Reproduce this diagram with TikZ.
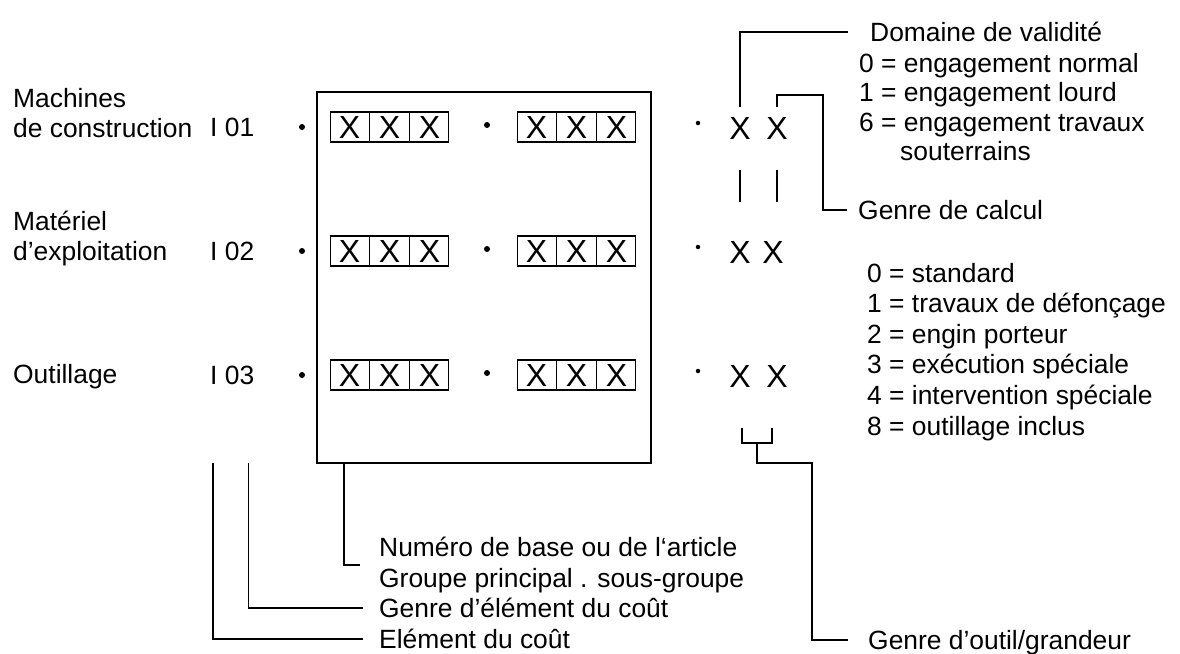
\documentclass[tikz,border=0pt]{standalone}
\usepackage{fontspec}
\setmainfont{Liberation Sans}
\usetikzlibrary{shapes.multipart}

\tikzset{
  txt/.style={anchor=west, inner sep=0pt, text height=18.9pt, text depth=0pt},
  blk/.style={anchor=north west, inner sep=0pt, align=left},
  xx/.style={inner sep=0pt, font=\fontsize{32}{36}\selectfont, text height=22.9pt, text depth=0pt},
  xbox/.style={draw, line width=1.6pt, font=\fontsize{32}{36}\selectfont, rectangle split,
    rectangle split horizontal, rectangle split parts=3, inner xsep=8.5pt, inner ysep=4pt},
  bull/.style={circle, fill, inner sep=0pt, minimum size=6pt},
  wire/.style={line width=1.6pt}
}

\begin{document}
\begin{tikzpicture}[x=1pt, y=-1pt, font=\fontsize{26.4}{30}\selectfont]
  \useasboundingbox (0,0) rectangle (1180,653);
  \node[draw, wire, inner sep=0pt, outer sep=0pt, minimum width=334pt,
    minimum height=371pt] (frame) at (484,277.5) {};
  \node[blk] (mach) at (13,88) {Machines\\de construction};
  \node[blk] (mat) at (13,211) {Matériel\\d’exploitation};
  \node[txt] (outi) at (13,374) {Outillage};
  \foreach \r/\y/\xb in {1/127/777, 2/251/773, 3/375/777} {
    \node[txt] (i\r) at (210,\y) {I 0\r};
    \node[bull] (da\r) at (302,\y) {};
    \node[xbox] (ba\r) at (389.5,\y) {X\nodepart{two}X\nodepart{three}X};
    \node[bull] (db\r) at (487,\y-2) {};
    \node[xbox] (bb\r) at (576.5,\y) {X\nodepart{two}X\nodepart{three}X};
    \node[bull, minimum size=4.5pt] (dc\r) at (698,\y-4) {};
    \node[xx] (x\r1) at (740,\y+1) {X};
    \node[xx] (x\r2) at (\xb,\y+1) {X};
  }
  \node[txt] (dom) at (870,32) {Domaine de validité};
  \node[blk, font=\fontsize{26.4}{29.5}\selectfont] (dlist) at (859,52.7)
    {0 = engagement normal\\1 = engagement lourd\\6 = engagement travaux\\\hspace*{41pt}souterrains};
  \node[txt] (calc) at (858,210) {Genre de calcul};
  \node[blk, font=\fontsize{26.4}{30.6}\selectfont] (clist) at (867,262.7)
    {0 = standard\\1 = travaux de défonçage\\2 = engin porteur\\3 = exécution spéciale\\4 = intervention spéciale\\8 = outillage inclus};
  \node[txt] (outil) at (868,640) {Genre d’outil/grandeur};
  \node[blk, anchor=west, font=\fontsize{26.4}{31}\selectfont] (num) at (379,565)
    {Numéro de base ou de l‘article\\Groupe principal . sous-groupe};
  \node[txt] (gelt) at (379,608) {Genre d’élément du coût};
  \node[txt] (elt) at (379,639) {Elément du coût};
  % renvois
  \draw[wire] ([yshift=9.5pt]x11.north) |- ([xshift=-22pt]dom.west);
  \draw[wire] ([yshift=9.5pt]x12.north) |- ++(46,-12) |- ([xshift=-11pt]calc.west);
  \foreach \c in {x11,x12} \draw[wire] ([yshift=-30.5pt]\c.south) -- ++(0,32);
  \draw[wire] ([xshift=2pt,yshift=-40.5pt]x31.south) -- ++(0,15) coordinate (bl)
    -| ([xshift=-5pt,yshift=-40.5pt]x32.south);
  \draw[wire] ([xshift=15pt]bl) |- ++(55,20) |- ([xshift=-20pt]outil.west);
  \draw[wire] ([xshift=27pt]frame.south west) |- ([xshift=-19pt]num.west);
  \coordinate (ge) at ([xshift=-6pt]i3.east);
  \coordinate (el) at ([xshift=3pt]i3.west);
  \draw[wire] (ge |- frame.south) |- ([xshift=-16pt]gelt.west);
  \draw[wire] (el |- frame.south) |- ([xshift=-16pt]elt.west);
\end{tikzpicture}
\end{document}
